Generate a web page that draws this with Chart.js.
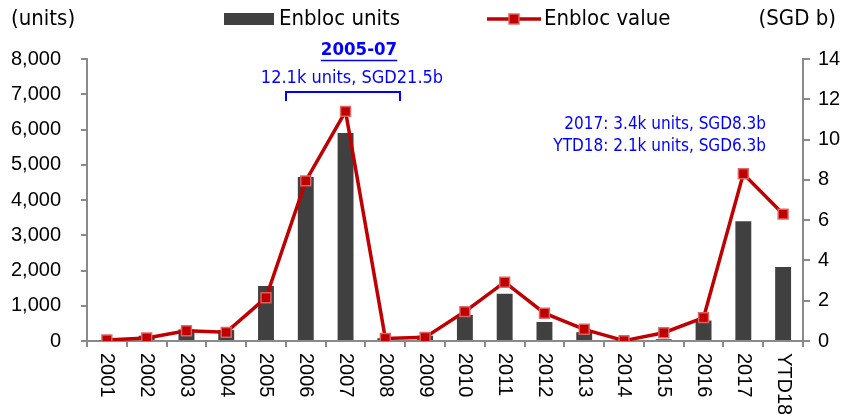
<!DOCTYPE html>
<html>
<head>
<meta charset="utf-8">
<script src="https://cdn.jsdelivr.net/npm/chart.js@4/dist/chart.umd.min.js"></script>
<style>
  html, body { margin: 0; padding: 0; background: #ffffff; }
  #wrap { width: 846px; height: 414px; position: relative; }
</style>
</head>
<body>
<div id="wrap"><canvas id="c"></canvas></div>
<script>
// Categories and series
const years = ['2001','2002','2003','2004','2005','2006','2007','2008','2009','2010','2011','2012','2013','2014','2015','2016','2017','YTD18'];
const enblocUnits = [20, 150, 330, 310, 1560, 4650, 5900, 80, 150, 740, 1340, 540, 250, 20, 50, 580, 3400, 2100];
const enblocValue = [0.05, 0.15, 0.51, 0.43, 2.15, 7.95, 11.4, 0.13, 0.18, 1.46, 2.92, 1.38, 0.58, 0.02, 0.41, 1.16, 8.3, 6.3];
const unitsTicks = { max: 8000, step: 1000 };
const valueTicks = { max: 14, step: 2 };

const BAR = '#404040';
const RED = '#c00000';
const AXIS = '#8a8a8a';
const BLUE = '#0000ff';
const TICK_FONT = '"Liberation Sans", Arial, sans-serif';
const TEXT_FONT = '"DejaVu Sans Condensed", "DejaVu Sans", sans-serif';

// Rotated year labels, legend, unit captions and callouts
const decorations = {
  id: 'decorations',
  afterDraw(chart) {
    const ctx = chart.ctx;
    const xs = chart.scales.x;
    ctx.save();

    // x labels, reading downward
    ctx.fillStyle = '#000';
    ctx.font = '20px ' + TICK_FONT;
    ctx.textAlign = 'left';
    ctx.textBaseline = 'middle';
    years.forEach((lab, i) => {
      const x = xs.getPixelForTick(i);
      ctx.save();
      ctx.translate(x, xs.top + 12);
      ctx.rotate(Math.PI / 2);
      ctx.fillText(lab, 0, 0);
      ctx.restore();
    });

    // axis captions
    ctx.font = '22px ' + TEXT_FONT;
    ctx.textBaseline = 'middle';
    ctx.textAlign = 'left';
    ctx.fillText('(units)', 11, 19);
    ctx.textAlign = 'right';
    ctx.fillText('(SGD b)', 836, 19);

    // legend
    const ds = chart.data.datasets;
    const bar = ds.find(d => d.type === 'bar');
    const line = ds.find(d => d.type === 'line');
    ctx.fillStyle = bar.backgroundColor;
    ctx.fillRect(224, 13, 50, 12);
    ctx.fillStyle = '#000';
    ctx.textAlign = 'left';
    ctx.fillText(bar.label, 279, 19);

    ctx.strokeStyle = line.borderColor;
    ctx.lineWidth = line.borderWidth;
    ctx.beginPath();
    ctx.moveTo(487, 19);
    ctx.lineTo(541, 19);
    ctx.stroke();
    ctx.fillStyle = line.pointBackgroundColor;
    ctx.strokeStyle = line.pointBorderColor;
    ctx.lineWidth = line.pointBorderWidth;
    ctx.fillRect(509, 14, 10, 10);
    ctx.strokeRect(509, 14, 10, 10);
    ctx.fillStyle = '#000';
    ctx.fillText(line.label, 544, 19);

    // 2005-07 callout
    ctx.fillStyle = BLUE;
    ctx.strokeStyle = BLUE;
    ctx.font = 'bold 18.5px ' + TEXT_FONT;
    ctx.textAlign = 'center';
    ctx.fillText('2005-07', 359, 50);
    const w = ctx.measureText('2005-07').width;
    ctx.lineWidth = 1.5;
    ctx.beginPath();
    ctx.moveTo(359 - w / 2, 60.5);
    ctx.lineTo(359 + w / 2, 60.5);
    ctx.stroke();

    ctx.font = '18px ' + TEXT_FONT;
    ctx.fillText('12.1k units, SGD21.5b', 352, 78);

    ctx.lineWidth = 2;
    ctx.beginPath();
    ctx.moveTo(286, 101);
    ctx.lineTo(286, 92);
    ctx.lineTo(400, 92);
    ctx.lineTo(400, 101);
    ctx.stroke();

    // 2017 / YTD18 callout
    ctx.font = '17px ' + TEXT_FONT;
    ctx.textAlign = 'right';
    ctx.fillText('2017: 3.4k units, SGD8.3b', 766, 125);
    ctx.fillText('YTD18: 2.1k units, SGD6.3b', 766, 147);

    ctx.restore();
  }
};

new Chart(document.getElementById('c'), {
  data: {
    labels: years,
    datasets: [
      {
        type: 'line',
        label: 'Enbloc value',
        data: enblocValue,
        yAxisID: 'y1',
        borderColor: RED,
        borderWidth: 3.5,
        pointStyle: 'rect',
        pointRadius: 7,
        pointBackgroundColor: RED,
        pointBorderColor: 'rgba(222,100,100,0.95)',
        pointBorderWidth: 1.5,
        tension: 0,
        order: 0
      },
      {
        type: 'bar',
        label: 'Enbloc units',
        data: enblocUnits,
        yAxisID: 'y',
        backgroundColor: BAR,
        barPercentage: 0.4,
        categoryPercentage: 1.0,
        order: 1
      }
    ]
  },
  options: {
    responsive: true,
    maintainAspectRatio: false,
    animation: false,
    layout: { padding: { top: 59, left: 0, right: 0, bottom: 0 } },
    plugins: { legend: { display: false }, tooltip: { enabled: false } },
    scales: {
      x: {
        type: 'category',
        offset: true,
        grid: { display: true, offset: true, drawOnChartArea: false, drawTicks: true, tickLength: 6, color: AXIS, lineWidth: 2 },
        border: { display: true, color: AXIS, width: 2 },
        ticks: { display: false },
        afterFit(s) { s.height = 73; }
      },
      y: {
        position: 'left',
        min: 0,
        max: unitsTicks.max,
        grid: { drawOnChartArea: false, drawTicks: true, tickLength: 6, color: AXIS, lineWidth: 2 },
        border: { display: true, color: AXIS, width: 2 },
        ticks: {
          stepSize: unitsTicks.step,
          padding: 20,
          color: '#000',
          font: { family: TICK_FONT, size: 20 },
          callback: v => v.toLocaleString('en-US')
        },
        afterFit(s) { s.width = 87; }
      },
      y1: {
        position: 'right',
        min: 0,
        max: valueTicks.max,
        grid: { drawOnChartArea: false, drawTicks: true, tickLength: 7, color: AXIS, lineWidth: 2 },
        border: { display: true, color: AXIS, width: 2 },
        ticks: {
          stepSize: valueTicks.step,
          padding: 8,
          color: '#000',
          font: { family: TICK_FONT, size: 20 }
        },
        afterFit(s) { s.width = 43; }
      }
    }
  },
  plugins: [decorations]
});
</script>
</body>
</html>
